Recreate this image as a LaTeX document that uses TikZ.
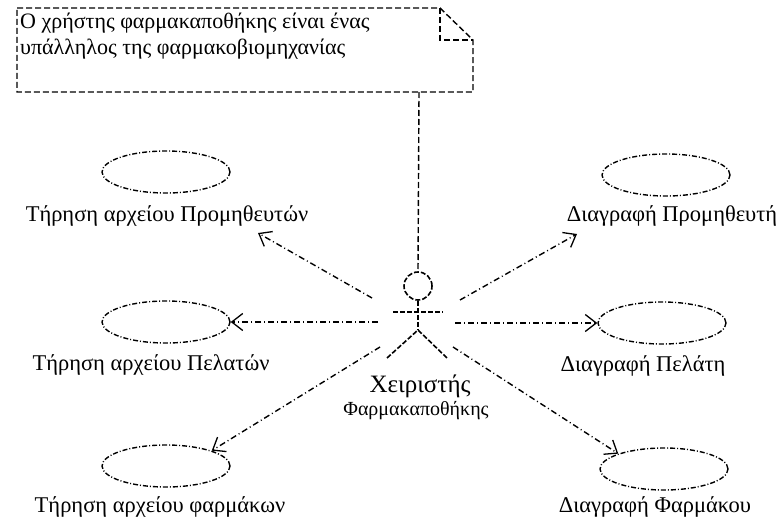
\documentclass[tikz,border=0pt]{standalone}
\usepackage{fontspec}
\setmainfont{Liberation Serif}
\usetikzlibrary{arrows.meta,shapes.geometric}

\tikzset{
	usecase/.style={draw,ellipse,minimum width=128pt,minimum height=42pt,inner sep=0pt,
		line width=1.4pt,dash pattern=on 5pt off 2pt on 1pt off 2pt},
	uclabel/.style={inner sep=0pt,font=\fontsize{22.5}{26}\selectfont},
	assoc/.style={line width=1.4pt,dash pattern=on 6pt off 3pt on 1pt off 3pt,
		-{Straight Barb[length=11pt,width=17pt,line width=1.3pt]}},
	stickman/.style={line width=1.6pt,dash pattern=on 5pt off 2pt},
	notebox/.style={line width=1.4pt,dash pattern=on 6pt off 3pt},
}

\begin{document}
\begin{tikzpicture}[x=1pt,y=-1pt]
			\useasboundingbox (0,0) rectangle (783,524);

			% note
			\draw[notebox] (17,8) -- (440,8) -- (473,40) -- (473,92) -- (17,92) -- cycle;
			\draw[notebox] (440,8) -- (440,40) -- (473,40);
			\node[anchor=north west,align=left,inner sep=0pt,font=\fontsize{22}{26}\selectfont] (note) at (20,13)
				{Ο χρήστης φαρμακαποθήκης είναι ένας\\υπάλληλος της φαρμακοβιομηχανίας};
			\coordinate (noteb) at (419,92);

			% actor
			\node[circle,draw,stickman,minimum size=28pt,inner sep=0pt] (head) at (418,286) {};
			\coordinate (hip) at (418,330);
			\draw[stickman] (head.south) -- (hip);
			\draw[stickman] (393,312) -- (443,312);
			\draw[stickman] (387,358) -- (hip) -- (447,358);
			\node[inner sep=0pt,font=\fontsize{25}{28}\selectfont] (actor) at (420,386) {Χειριστής};
			\node[inner sep=0pt,font=\fontsize{20}{23}\selectfont] (actor2) at (416,411) {Φαρμακαποθήκης};
			\draw[notebox] (noteb) -- (head.north);

			% use cases
			\node[usecase] (uc1) at (166,172) {};
			\node[uclabel] (l1) at (167,216) {Τήρηση αρχείου Προμηθευτών};
			\node[usecase] (uc2) at (166,322) {};
			\node[uclabel] (l2) at (151,365) {Τήρηση αρχείου Πελατών};
			\node[usecase] (uc3) at (166,466) {};
			\node[uclabel] (l3) at (160,507) {Τήρηση αρχείου φαρμάκων};
			\node[usecase] (uc4) at (666,175) {};
			\node[uclabel] (l4) at (672,216) {Διαγραφή Προμηθευτή};
			\node[usecase] (uc5) at (662,323) {};
			\node[uclabel] (l5) at (643,366) {Διαγραφή Πελάτη};
			\node[usecase] (uc6) at (664,469) {};
			\node[uclabel] (l6) at (655,507) {Διαγραφή Φαρμάκου};

			% associations
			\coordinate (a1) at (372,298);
			\coordinate (a2) at (378,322);
			\coordinate (a3) at (380,347);
			\coordinate (a4) at (460,300);
			\coordinate (a5) at (455,323);
			\coordinate (a6) at (453,347);
			\coordinate (t1) at (258,233);
			\coordinate (t4) at (577,234);
			\draw[assoc] (a1) -- (t1);
			\draw[assoc] (a2) -- (uc2.east);
			\draw[assoc] (a3) -- (uc3.north east);
			\draw[assoc] (a4) -- (t4);
			\draw[assoc] (a5) -- (uc5.west);
			\draw[assoc] (a6) -- (uc6.north west);
\end{tikzpicture}
\end{document}
